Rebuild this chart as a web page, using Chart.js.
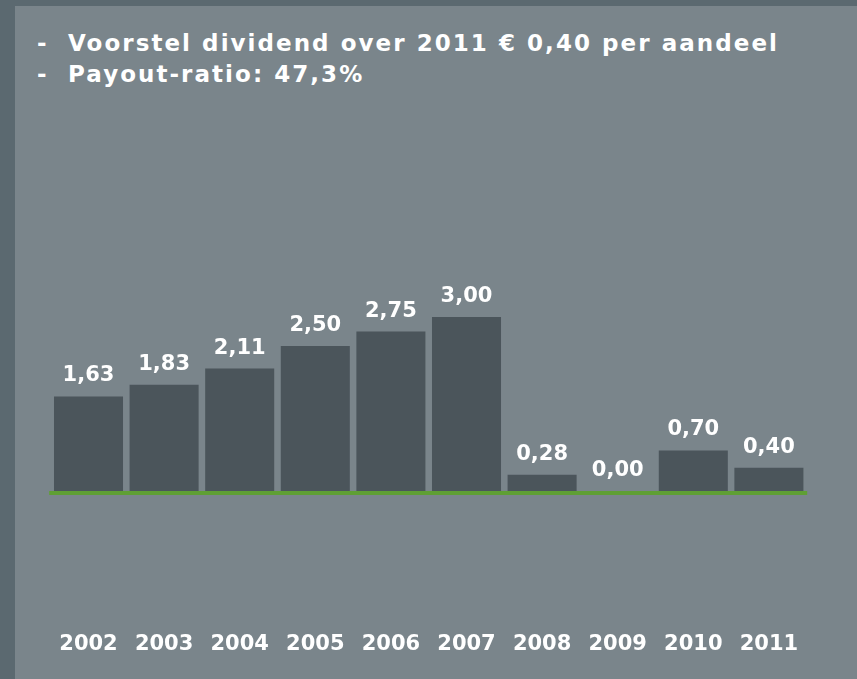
<!DOCTYPE html>
<html>
<head>
<meta charset="utf-8">
<script src="https://cdn.jsdelivr.net/npm/chart.js@4/dist/chart.umd.min.js"></script>
<style>
  html, body { margin: 0; padding: 0; }
  body { width: 857px; height: 679px; background: #5b6970; position: relative; overflow: hidden; }
  #panel { position: absolute; left: 15px; top: 6px; right: 0; bottom: 0; background: #7a858b; }
  .line { position: absolute; color: #ffffff; font-family: "DejaVu Sans", sans-serif; font-weight: bold;
          font-size: 23px; line-height: 23px; white-space: nowrap; }
  .dash { left: 37px; }
  .txt { left: 68px; letter-spacing: 2.05px; }
  #c { position: absolute; left: 0; top: 0; }
</style>
</head>
<body>
<div id="panel"></div>
<div class="line dash" style="top:31.5px">-</div>
<div class="line txt" style="top:31.5px">Voorstel dividend over 2011 € 0,40 per aandeel</div>
<div class="line dash" style="top:62.5px">-</div>
<div class="line txt" style="top:62.5px">Payout-ratio: 47,3%</div>
<canvas id="c" width="857" height="679"></canvas>
<script>
const years = ["2002","2003","2004","2005","2006","2007","2008","2009","2010","2011"];
const dividend = [1.63, 1.83, 2.11, 2.50, 2.75, 3.00, 0.28, 0.00, 0.70, 0.40];

const valueLabels = {
  id: 'valueLabels',
  afterDatasetsDraw(chart) {
    const ctx = chart.ctx;
    const meta = chart.getDatasetMeta(0);
    ctx.save();
    ctx.font = 'bold 21px "DejaVu Sans"';
    ctx.fillStyle = '#ffffff';
    ctx.textAlign = 'center';
    ctx.textBaseline = 'alphabetic';
    meta.data.forEach((el, i) => {
      const v = chart.data.datasets[0].data[i];
      ctx.fillText(v.toFixed(2).replace('.', ','), el.x, el.y - 15);
    });
    ctx.restore();
  }
};

const baseLine = {
  id: 'baseLine',
  afterDatasetsDraw(chart) {
    const ctx = chart.ctx;
    const y0 = chart.scales.y.getPixelForValue(0);
    ctx.save();
    ctx.strokeStyle = '#5f9f34';
    ctx.lineWidth = 4;
    ctx.beginPath();
    ctx.moveTo(chart.chartArea.left - 1.5, y0 + 2);
    ctx.lineTo(chart.chartArea.right + 0.5, y0 + 2);
    ctx.stroke();
    ctx.restore();
  }
};

new Chart(document.getElementById('c'), {
  type: 'bar',
  data: {
    labels: years,
    datasets: [{
      data: dividend,
      backgroundColor: '#4b555b',
      borderWidth: 0,
      categoryPercentage: 1.0,
      barPercentage: 0.913
    }]
  },
  options: {
    responsive: false,
    animation: false,
    events: [],
    layout: { autoPadding: false, padding: { top: 259, left: 50.7, right: 50.3, bottom: 26 } },
    plugins: { legend: { display: false }, tooltip: { enabled: false } },
    scales: {
      y: { display: false, min: 0, max: 4 },
      x: {
        grid: { display: false, drawTicks: false },
        border: { display: false },
        afterFit(scale) { scale.height = 162; scale.paddingLeft = 0; scale.paddingRight = 0; },
        ticks: {
          color: '#ffffff',
          padding: 141,
          maxRotation: 0,
          autoSkip: false,
          font: { family: 'DejaVu Sans', weight: 'bold', size: 21 }
        }
      }
    }
  },
  plugins: [valueLabels, baseLine]
});
</script>
</body>
</html>
